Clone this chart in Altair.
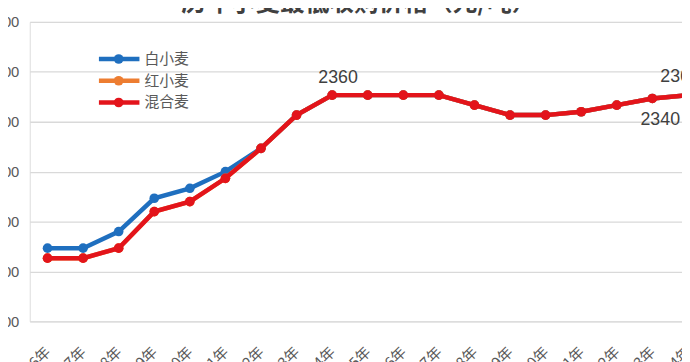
import altair as alt
import pandas as pd

# ---- data ----
years = ["2006年", "2007年", "2008年", "2009年", "2010年", "2011年", "2012年",
         "2013年", "2014年", "2015年", "2016年", "2017年", "2018年", "2019年",
         "2020年", "2021年", "2022年", "2023年", "2024年"]
white_wheat = [1440, 1440, 1540, 1740, 1800, 1900, 2040, 2240, 2360, 2360,
               2360, 2360, 2300, 2240, 2240, 2260, 2300, 2340, 2360]
red_wheat = [1380, 1380, 1440, 1660, 1720, 1860, 2040, 2240, 2360, 2360,
             2360, 2360, 2300, 2240, 2240, 2260, 2300, 2340, 2360]
mixed_wheat = [1380, 1380, 1440, 1660, 1720, 1860, 2040, 2240, 2360, 2360,
               2360, 2360, 2300, 2240, 2240, 2260, 2300, 2340, 2360]
series_names = ["白小麦", "红小麦", "混合麦"]
series_colors = ["#1F6FBF", "#ED7D31", "#E3141B"]
y_ticks = [1000, 1300, 1600, 1900, 2200, 2500, 2800]
title_text = "历年小麦最低收购价格（元/吨）"
labels_above_left = ["2014年"]
labels_above_right = ["2024年"]
labels_below = ["2023年"]

rows = []
for name, vals in zip(series_names, [white_wheat, red_wheat, mixed_wheat]):
    for yr, v in zip(years, vals):
        rows.append({"year": yr, "series": name, "price": v})
df = pd.DataFrame(rows)

W, H = 684, 303

x_enc = alt.X("year:N", sort=years,
              scale=alt.Scale(type="point", padding=0.5),
              axis=alt.Axis(title=None, labelAngle=-45, labelAlign="right",
                            labelBaseline="middle", labelPadding=28,
                            ticks=False, domain=False, grid=False,
                            labelFontSize=15, labelColor="#595959",
                            labelFont="Noto Sans CJK SC", labelOverlap=False))
y_enc = alt.Y("price:Q", scale=alt.Scale(domain=[1000, 2800], nice=False, zero=False),
              axis=alt.Axis(title=None, values=y_ticks, grid=True,
                            gridColor="#D9D9D9", gridWidth=1.3, domain=False,
                            ticks=False, labelPadding=11, labelFontSize=15,
                            labelColor="#595959", labelFont="Liberation Sans"))

base = alt.Chart(df).encode(x=x_enc, y=y_enc)

layers = []
for name, col in zip(series_names, series_colors):
    sub = base.transform_filter(alt.datum.series == name)
    layers.append(sub.mark_line(color=col, strokeWidth=4.5))
    layers.append(sub.mark_point(color=col, filled=True, size=95, opacity=1))

mixed = base.transform_filter(alt.datum.series == "混合麦")
lab_style = dict(font="Liberation Sans", fontSize=18, color="#404040")
layers.append(
    mixed.transform_filter(alt.FieldOneOfPredicate(field="year", oneOf=labels_above_left))
    .mark_text(dy=-17, dx=6, **lab_style).encode(text="price:Q"))
layers.append(
    mixed.transform_filter(alt.FieldOneOfPredicate(field="year", oneOf=labels_above_right))
    .mark_text(dy=-18, dx=-8, **lab_style).encode(text="price:Q"))
layers.append(
    mixed.transform_filter(alt.FieldOneOfPredicate(field="year", oneOf=labels_below))
    .mark_text(dy=22, dx=8, **lab_style).encode(text="price:Q"))

# legend (custom, Excel style)
leg_y = [37.5, 59.5, 81.5]
for name, col, ly in zip(series_names, series_colors, leg_y):
    ldf = pd.DataFrame({"name": [name]})
    lc = alt.Chart(ldf)
    layers.append(lc.mark_rule(color=col, strokeWidth=4.5).encode(
        x=alt.value(70), x2=alt.value(111), y=alt.value(ly)))
    layers.append(lc.mark_point(color=col, filled=True, size=95, opacity=1).encode(
        x=alt.value(90), y=alt.value(ly)))
    layers.append(lc.mark_text(align="left", baseline="middle", fontSize=15,
                               font="Noto Sans CJK SC", color="#595959").encode(
        x=alt.value(116), y=alt.value(ly), text="name:N"))

# title (partially cropped as in the reference)
tdf = pd.DataFrame({"t": [title_text]})
layers.append(alt.Chart(tdf).mark_text(align="center", baseline="bottom", fontSize=25,
                                       fontWeight="bold", font="Noto Sans CJK SC",
                                       color="#404040").encode(
    x=alt.value(333), y=alt.value(-6), text="t:N"))

chart = alt.layer(*layers).properties(
    width=W, height=H,
    autosize=alt.AutoSizeParams(type="none"),
    padding={"left": 22, "top": 12, "right": -24, "bottom": 39},
).configure_view(stroke=None).configure(background="white")

chart.save("out.html", embed_options={"renderer": "svg", "actions": False})
